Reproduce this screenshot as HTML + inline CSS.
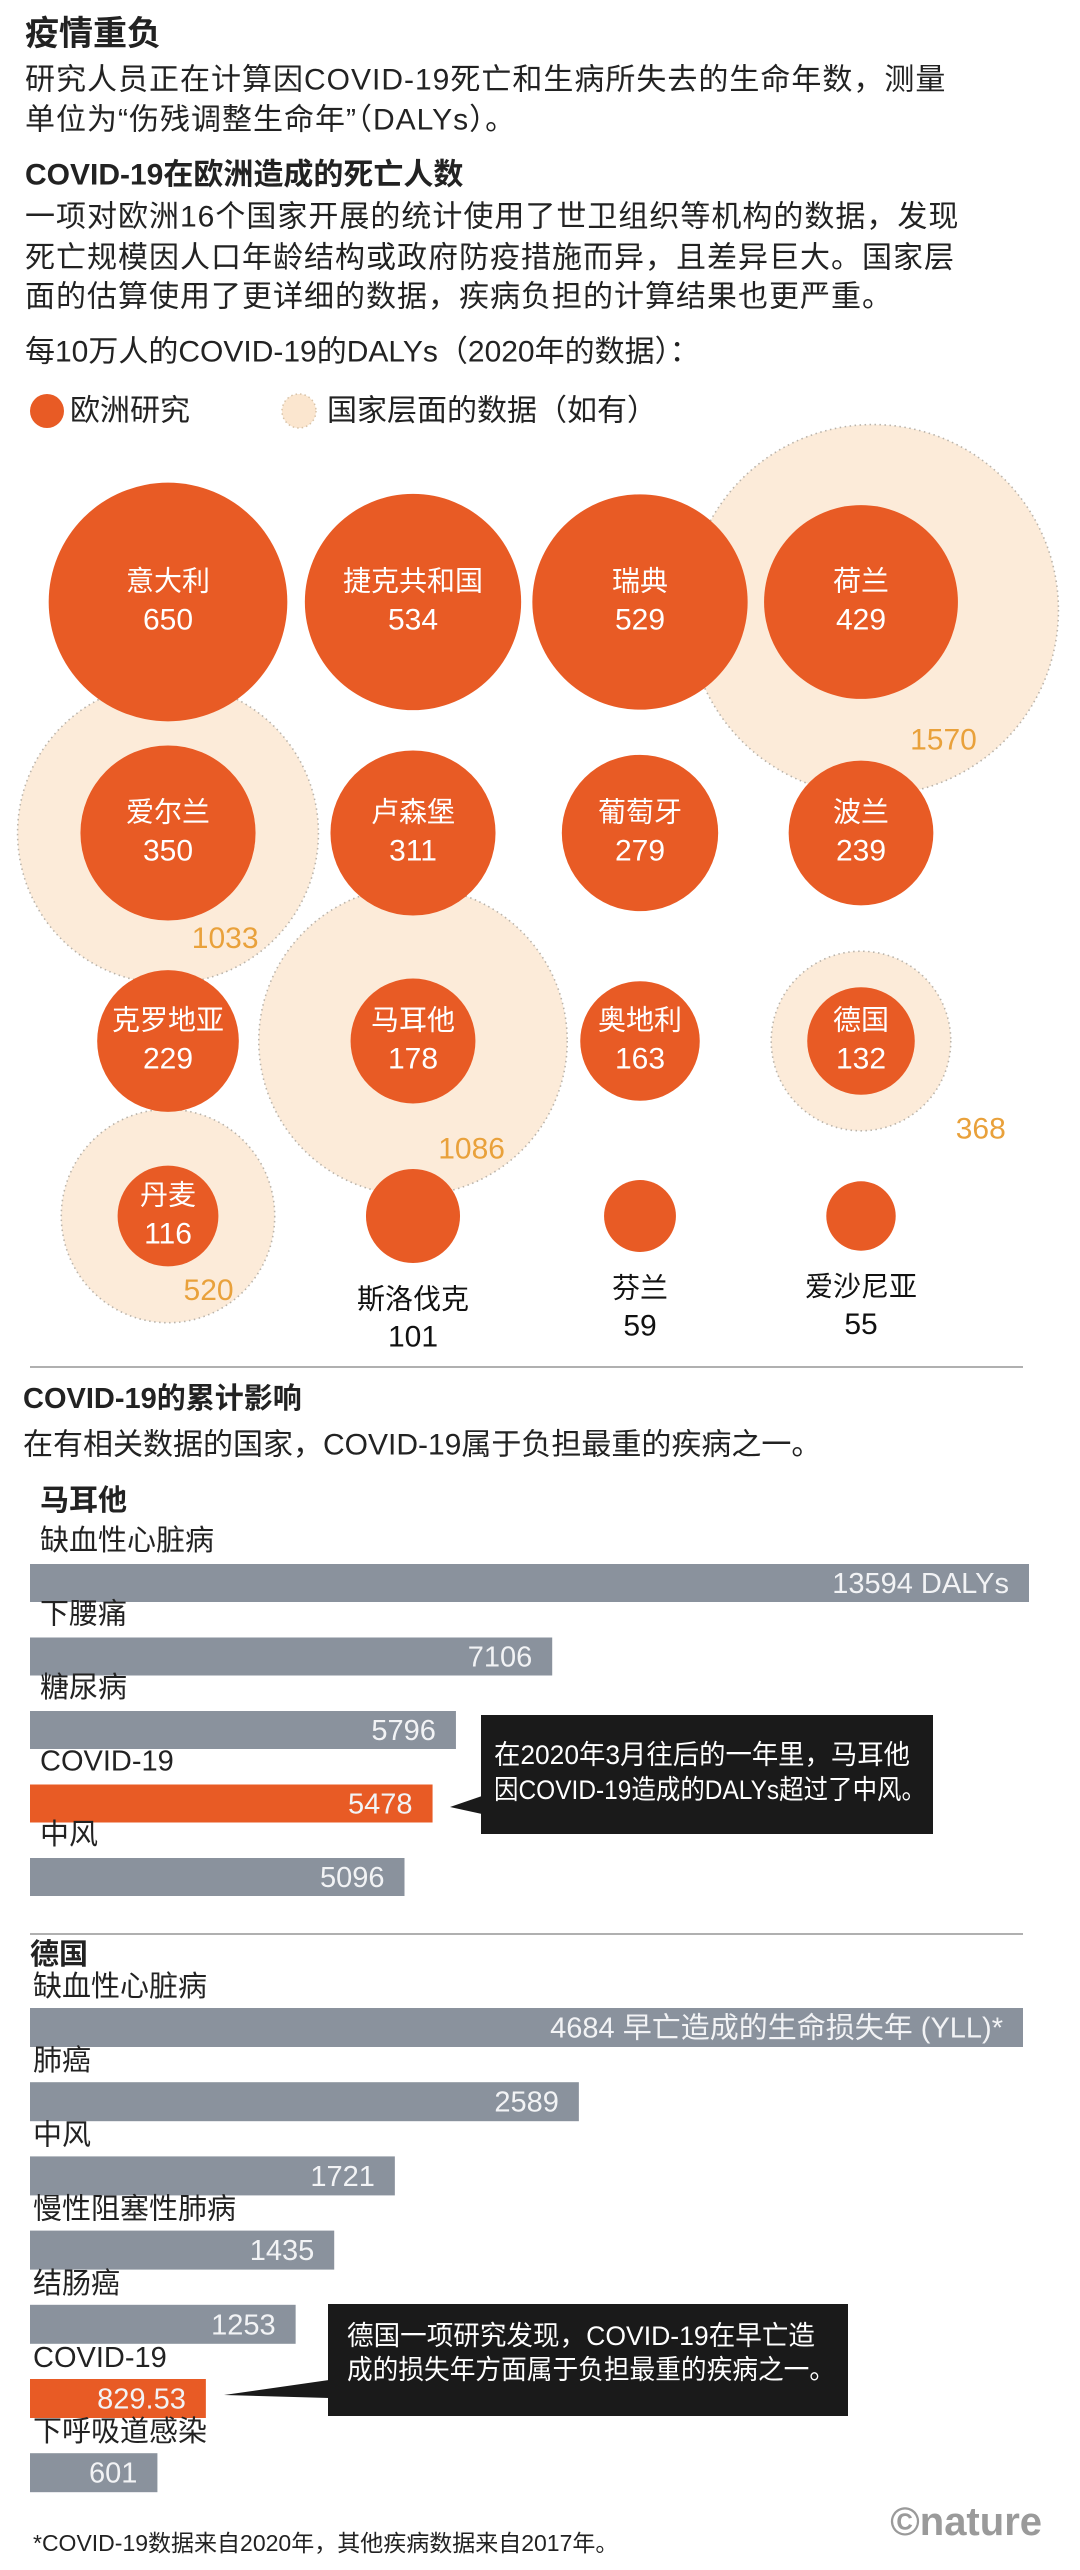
<!DOCTYPE html>
<html><head><meta charset="utf-8">
<style>
html,body{margin:0;padding:0;background:#fff;}
svg{display:block;}
text{font-family:"Liberation Sans","Noto Sans CJK SC",sans-serif;}
</style></head>
<body>
<svg id="chart" width="1080" height="2570" viewBox="0 0 1080 2570" xmlns="http://www.w3.org/2000/svg">
<g fill="#222">
<text x="25" y="34" dominant-baseline="central" font-size="34" font-weight="bold">疫情重负</text>
<text x="25" y="80" dominant-baseline="central" font-size="30" letter-spacing="1">研究人员正在计算因COVID-19死亡和生病所失去的生命年数，测量</text>
<text x="25" y="120" dominant-baseline="central" font-size="30" letter-spacing="1">单位为“伤残调整生命年”（DALYs）。</text>
<text x="25" y="175" dominant-baseline="central" font-size="30" font-weight="bold">COVID-19在欧洲造成的死亡人数</text>
<text x="25" y="217" dominant-baseline="central" font-size="30" letter-spacing="1">一项对欧洲16个国家开展的统计使用了世卫组织等机构的数据，发现</text>
<text x="25" y="258" dominant-baseline="central" font-size="30" letter-spacing="1">死亡规模因人口年龄结构或政府防疫措施而异，且差异巨大。国家层</text>
<text x="25" y="297" dominant-baseline="central" font-size="30" letter-spacing="1">面的估算使用了更详细的数据，疾病负担的计算结果也更严重。</text>
<text x="25" y="352" dominant-baseline="central" font-size="30">每10万人的COVID-19的DALYs（2020年的数据）：</text>
</g>
<g>
<circle cx="47" cy="411" r="17" fill="#e85b25"/>
<text x="70" y="411" dominant-baseline="central" font-size="30" fill="#222">欧洲研究</text>
<circle cx="299" cy="411" r="17" fill="#fbe6cf" stroke="#d8c3a8" stroke-width="1.5" stroke-dasharray="1.5 3"/>
<text x="327" y="411" dominant-baseline="central" font-size="30" fill="#222">国家层面的数据（如有）</text>
</g>
<g id="bubbles"></g>
<line x1="30" y1="1367" x2="1023" y2="1367" stroke="#b0b0b0" stroke-width="2"/>
<g fill="#222">
<text x="23" y="1399" dominant-baseline="central" font-size="29" font-weight="bold">COVID-19的累计影响</text>
<text x="23" y="1445" dominant-baseline="central" font-size="30">在有相关数据的国家，COVID-19属于负担最重的疾病之一。</text>
<text x="40" y="1501" dominant-baseline="central" font-size="29" font-weight="bold">马耳他</text>
</g>
<g id="malta-bars"></g>
<line x1="30" y1="1934" x2="1023" y2="1934" stroke="#b0b0b0" stroke-width="2"/>
<text x="30" y="1955" dominant-baseline="central" font-size="29" font-weight="bold" fill="#222">德国</text>
<g id="germany-bars"></g>
<g>
<polygon points="450,1807 482,1796 482,1814" fill="#1a1a1a"/>
<rect x="481" y="1715" width="452" height="119" fill="#1a1a1a"/>
<text x="494" y="1755" dominant-baseline="central" font-size="27" fill="#fff" textLength="416" lengthAdjust="spacingAndGlyphs">在2020年3月往后的一年里，马耳他</text>
<text x="494" y="1790" dominant-baseline="central" font-size="27" fill="#fff" textLength="432" lengthAdjust="spacingAndGlyphs">因COVID-19造成的DALYs超过了中风。</text>
</g>
<g>
<polygon points="224,2395 329,2380 329,2398" fill="#1a1a1a"/>
<rect x="328" y="2304" width="520" height="112" fill="#1a1a1a"/>
<text x="347" y="2336" dominant-baseline="central" font-size="27" fill="#fff" textLength="468" lengthAdjust="spacingAndGlyphs">德国一项研究发现，COVID-19在早亡造</text>
<text x="347" y="2370" dominant-baseline="central" font-size="27" fill="#fff" textLength="488" lengthAdjust="spacingAndGlyphs">成的损失年方面属于负担最重的疾病之一。</text>
</g>
<text x="33" y="2543" dominant-baseline="central" font-size="23" fill="#222">*COVID-19数据来自2020年，其他疾病数据来自2017年。</text>
<text x="1042" y="2522" dominant-baseline="central" text-anchor="end" font-size="40" font-weight="bold" fill="#9a9a9a" font-family="Liberation Serif, serif">©nature</text>
</svg>
<script>
// Bubble chart data
const countries = ["意大利","捷克共和国","瑞典","荷兰","爱尔兰","卢森堡","葡萄牙","波兰","克罗地亚","马耳他","奥地利","德国","丹麦","斯洛伐克","芬兰","爱沙尼亚"];
const europeanDalys = [650,534,529,429,350,311,279,239,229,178,163,132,116,101,59,55];
const nationalDalys = [null,null,null,1570,1033,null,null,null,null,1086,null,368,520,null,null,null];
// Malta bars
const maltaCategories = ["缺血性心脏病","下腰痛","糖尿病","COVID-19","中风"];
const maltaValues = [13594,7106,5796,5478,5096];
const maltaValueLabels = ["13594 DALYs","7106","5796","5478","5096"];
// Germany bars
const germanyCategories = ["缺血性心脏病","肺癌","中风","慢性阻塞性肺病","结肠癌","COVID-19","下呼吸道感染"];
const germanyValues = [4684,2589,1721,1435,1253,829.53,601];
const germanyValueLabels = ["4684 早亡造成的生命损失年 (YLL)*","2589","1721","1435","1253","829.53","601"];

const NS = "http://www.w3.org/2000/svg";
function mk(tag, attrs, parent){const e=document.createElementNS(NS,tag);for(const k in attrs)e.setAttribute(k,attrs[k]);parent.appendChild(e);return e;}

// bubble layout
const colX=[168,413,640,861], rowY=[602,833,1041,1216];
const rScale = v => 4.68*Math.sqrt(v);
const bg=document.getElementById('bubbles');
const natG=mk('g',{},bg), eurG=mk('g',{},bg), lblG=mk('g',{},bg);
countries.forEach((name,i)=>{
  const cx=colX[i%4], cy=rowY[Math.floor(i/4)];
  const nv=nationalDalys[i];
  if(nv!==null){
    const rn=rScale(nv);
    const ncx = rn>170 ? cx+12 : cx, ncy = rn>170 ? cy+8 : cy;
    const c=mk('circle',{cx:ncx,cy:ncy,r:rn,fill:'#fcebd9',stroke:'#b9b3aa','stroke-width':1.6,'stroke-dasharray':'1.5 3.5'},natG);
    
    
    let lx=ncx+0.38*rn, ly=ncy+0.70*rn;
    if(rn<95){lx=ncx+rn+30; ly=ncy+rn-2;}
    const t=mk('text',{x:lx,y:ly,'text-anchor':'middle','dominant-baseline':'central','font-size':30,fill:'#e9a13b'},lblG);
    t.textContent=nv;
    
    
  }
  const v=europeanDalys[i], r=rScale(v);
  const c=mk('circle',{cx:cx,cy:cy,r:r,fill:'#e85b25'},eurG);
  
  
  const inside = r>=48;
  const col = inside?'#fff':'#111';
  const ny = inside?cy-21:cy+r+36, vy = inside?cy+18:cy+r+74;
  const t1=mk('text',{x:cx,y:ny,'text-anchor':'middle','dominant-baseline':'central','font-size':28,fill:col},lblG);
  t1.textContent=name;
  
  
  const t2=mk('text',{x:cx,y:vy,'text-anchor':'middle','dominant-baseline':'central','font-size':30,fill:col},lblG);
  t2.textContent=v;
  
  
});

function bars(gid, cats, vals, labels, opt){
  const g=document.getElementById(gid);
  const maxV=Math.max(...vals);
  const w=v=> v/maxV*opt.width;
  cats.forEach((c,i)=>{
    const top=opt.top+i*opt.step;
    const lab=mk('text',{x:opt.labelX,y:top-opt.labelOff,'dominant-baseline':'central','font-size':29,fill:'#222'},g);
    lab.textContent=c;
    
    
    const isCovid=c==='COVID-19';
    const b=mk('rect',{x:30,y:top,width:w(vals[i]),height:opt.h,fill:isCovid?'#e85b25':'#8a929d'},g);
    
    
    const vt=mk('text',{x:30+w(vals[i])-20,y:top+opt.h/2+1,'text-anchor':'end','dominant-baseline':'central','font-size':29,fill:'#f2f3f5'},g);
    vt.textContent=labels[i];
    
    
  });
}
bars('malta-bars',maltaCategories,maltaValues,maltaValueLabels,{top:1564,step:73.5,h:38,width:999,labelX:40,labelOff:23});
bars('germany-bars',germanyCategories,germanyValues,germanyValueLabels,{top:2008,step:74.2,h:39,width:993,labelX:33,labelOff:21});
</script>
</body></html>
